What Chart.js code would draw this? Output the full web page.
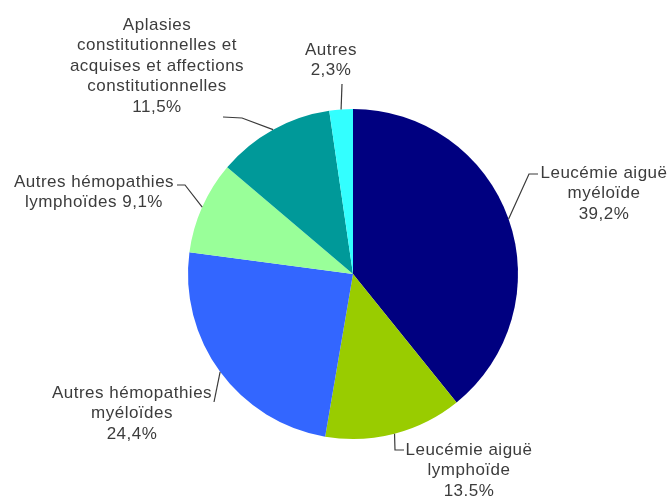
<!DOCTYPE html>
<html>
<head>
<meta charset="utf-8">
<script src="https://cdn.jsdelivr.net/npm/chart.js@4.4.1/dist/chart.umd.min.js"></script>
<style>
  html, body { margin: 0; padding: 0; background: #fff; }
  #wrap { width: 670px; height: 499px; }
</style>
</head>
<body>
<div id="wrap"><canvas id="myChart" width="670" height="499"></canvas></div>
<script>
// données (en %)
const categories = [
    'Leucémie aiguë myéloïde',
    'Leucémie aiguë lymphoïde',
    'Autres hémopathies myéloïdes',
    'Autres hémopathies lymphoïdes',
    'Aplasies constitutionnelles et acquises et affections constitutionnelles',
    'Autres'
];
const valeurs = [39.2, 13.5, 24.4, 9.1, 11.5, 2.3];
const etiquettes = [
    ['Leucémie aiguë', 'myéloïde', '39,2%'],
    ['Leucémie aiguë', 'lymphoïde', '13.5%'],
    ['Autres hémopathies', 'myéloïdes', '24,4%'],
    ['Autres hémopathies', 'lymphoïdes 9,1%'],
    ['Aplasies', 'constitutionnelles et', 'acquises et affections', 'constitutionnelles', '11,5%'],
    ['Autres', '2,3%']
];
const couleurs = ['#000080', '#99CC00', '#3366FF', '#99FF99', '#009999', '#33FFFF'];

// placement des étiquettes et des traits de rappel
const placement = [
    { x: 604, y: 173, trait: [[529, 174], [538, 174]] },
    { x: 469, y: 450, trait: [[395, 450], [404, 450]] },
    { x: 132, y: 393, trait: [[214, 402]] },
    { x: 94, y: 182, trait: [[185, 185], [177, 185]] },
    { x: 157, y: 25, trait: [[242, 118], [223, 117]] },
    { x: 331, y: 50, trait: [[342, 84]] }
];

const etiquettesPlugin = {
    id: 'etiquettes',
    afterDatasetsDraw(chart) {
        const ctx = chart.ctx;
        const arcs = chart.getDatasetMeta(0).data;
        ctx.save();
        arcs.forEach(function (arc, i) {
            const p = placement[i];
            const mid = (arc.startAngle + arc.endAngle) / 2;
            const x0 = arc.x + arc.outerRadius * Math.cos(mid);
            const y0 = arc.y + arc.outerRadius * Math.sin(mid);
            ctx.strokeStyle = '#3a3a3a';
            ctx.lineWidth = 1.2;
            ctx.beginPath();
            ctx.moveTo(x0, y0);
            p.trait.forEach(function (pt) { ctx.lineTo(pt[0], pt[1]); });
            ctx.stroke();

            ctx.fillStyle = '#3c3c3c';
            ctx.font = '17px "Liberation Sans", Arial, sans-serif';
            ctx.letterSpacing = '0.5px';
            ctx.textAlign = 'center';
            ctx.textBaseline = 'middle';
            etiquettes[i].forEach(function (ligne, k) {
                ctx.fillText(ligne, p.x, p.y + k * 20.5);
            });
        });
        ctx.restore();
    }
};

const ctx = document.getElementById('myChart');

new Chart(ctx, {
    type: 'pie',
    data: {
        labels: categories,
        datasets: [{
            data: valeurs,
            backgroundColor: couleurs,
            borderWidth: 0
        }]
    },
    options: {
        responsive: false,
        animation: false,
        layout: {
            padding: { top: 109, bottom: 60, left: 188, right: 152 }
        },
        plugins: {
            legend: { display: false },
            tooltip: { enabled: false }
        }
    },
    plugins: [etiquettesPlugin]
});
</script>
</body>
</html>
